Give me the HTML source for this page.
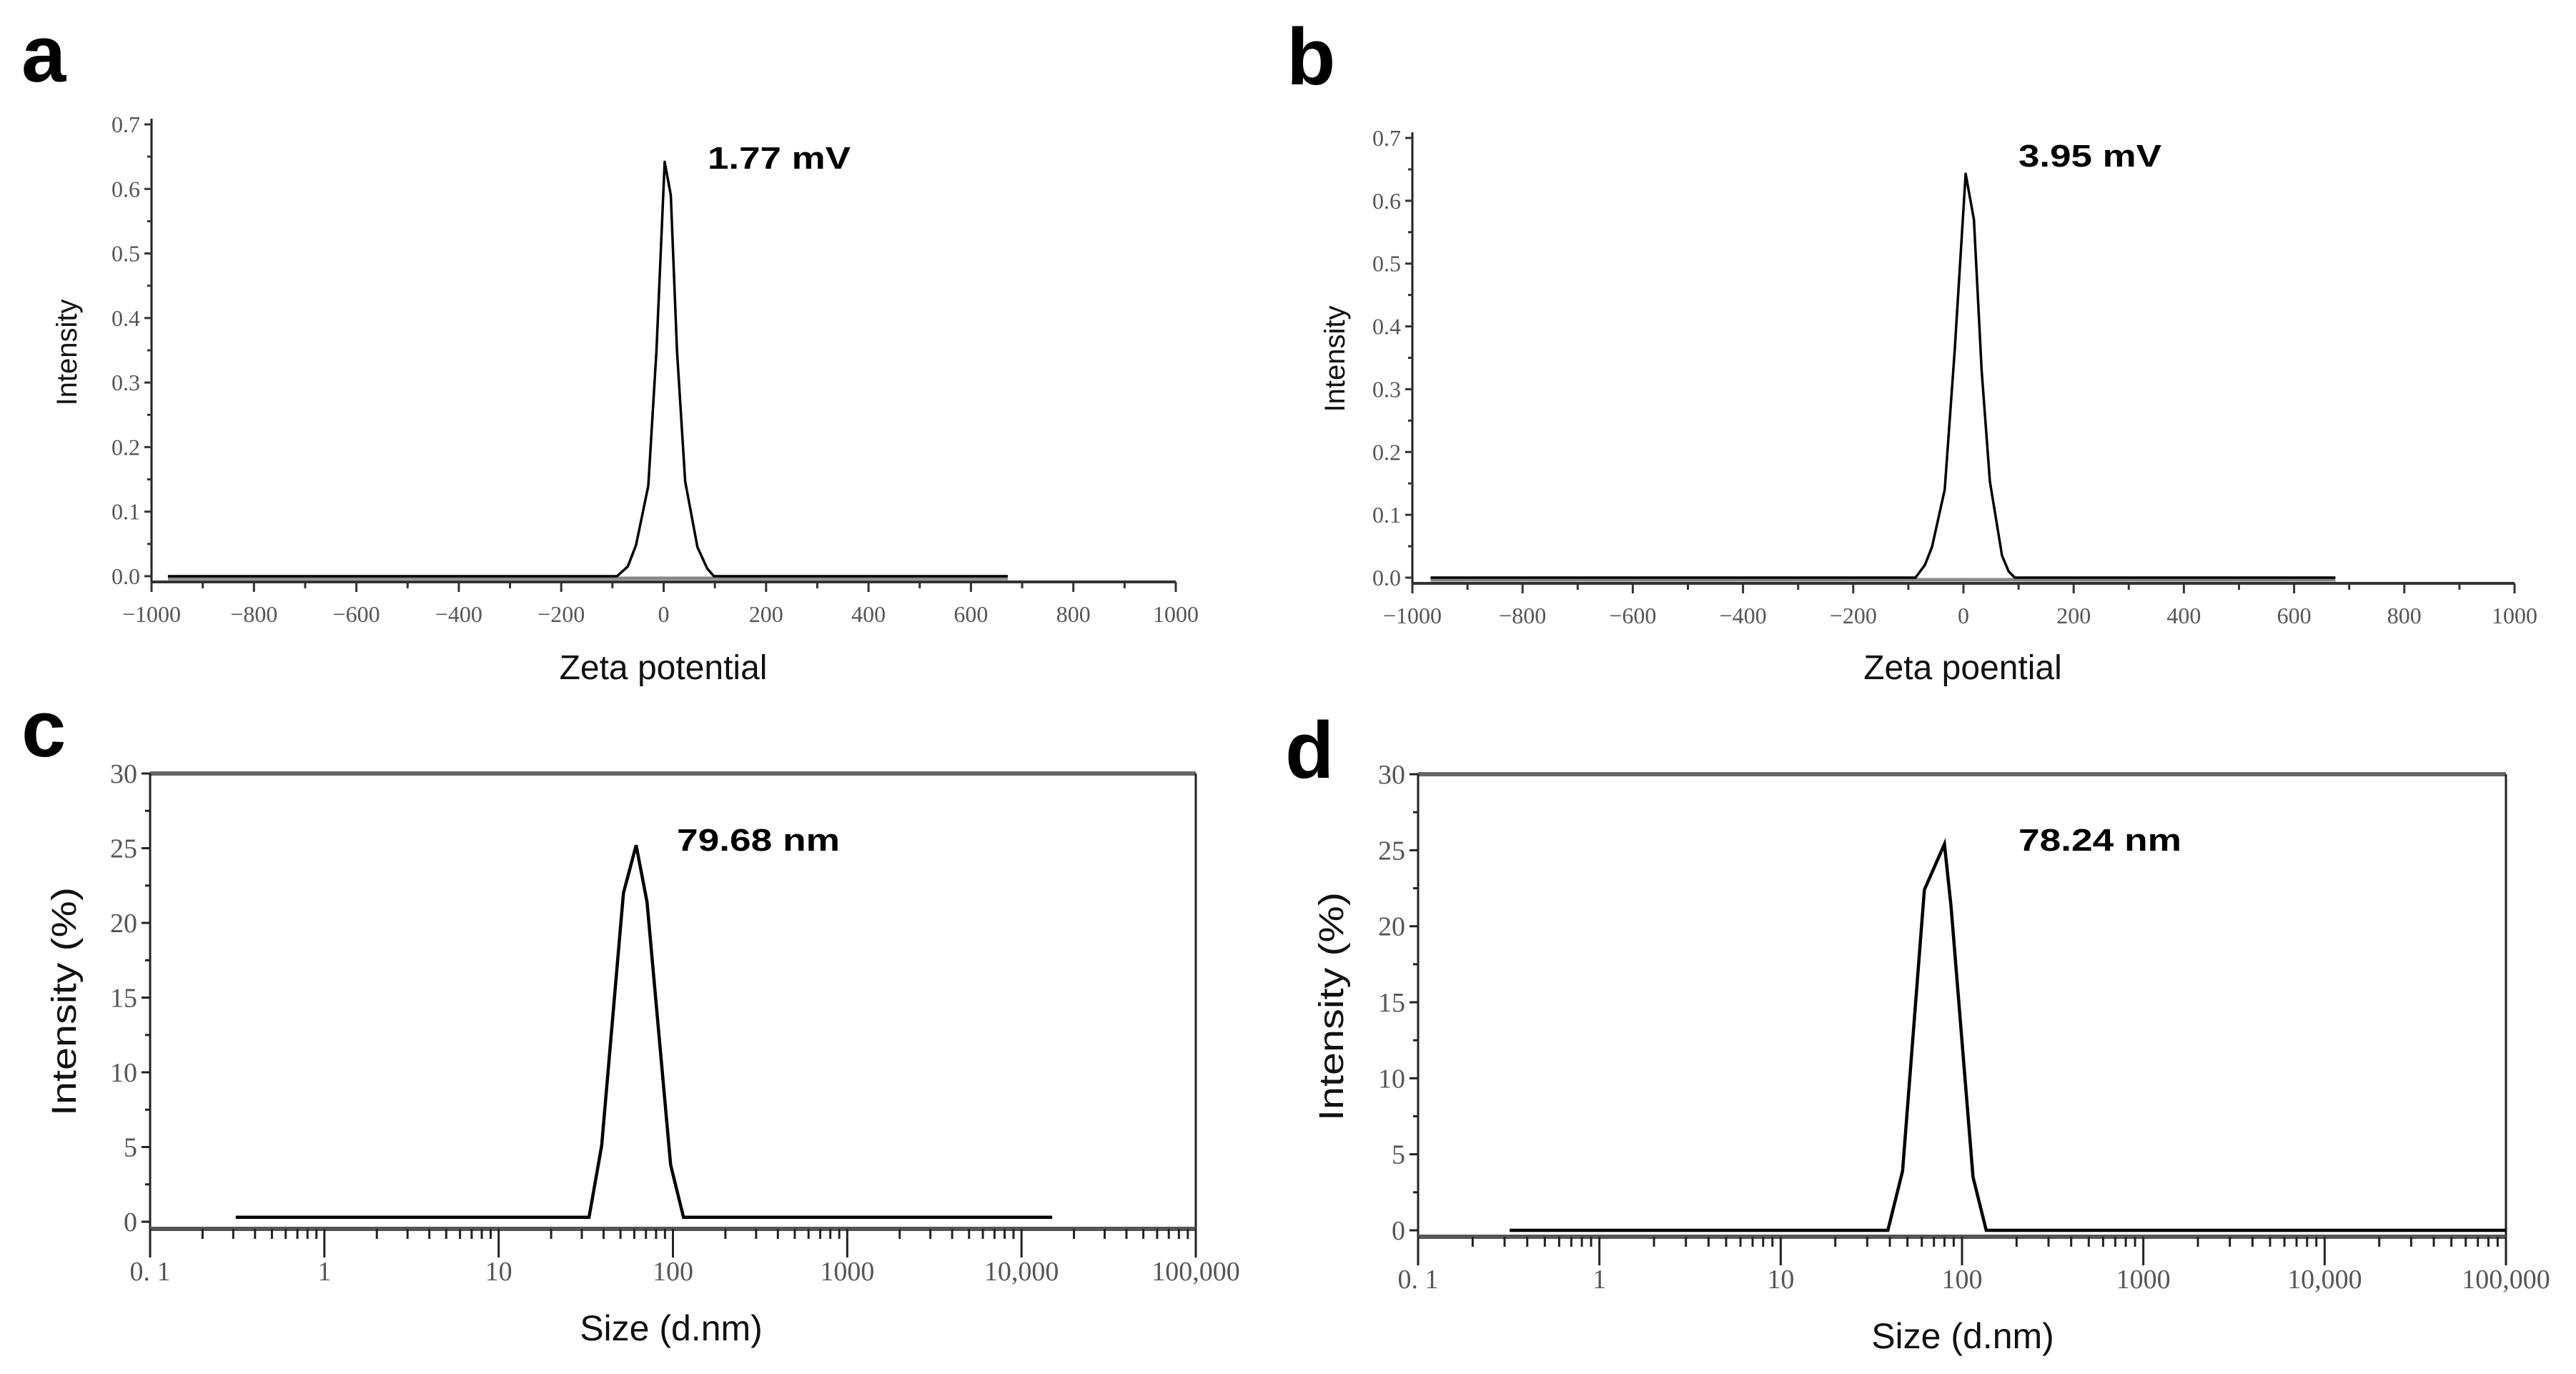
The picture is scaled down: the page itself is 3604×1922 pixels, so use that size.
<!DOCTYPE html>
<html><head><meta charset="utf-8"><style>
html,body{margin:0;padding:0;background:#fff}
svg{display:block}
</style></head><body>
<svg id="fig" width="3604" height="1922" viewBox="0 0 3604 1922" xmlns="http://www.w3.org/2000/svg">
<rect width="3604" height="1922" fill="#fff"/>
<text x="30" y="114" font-family="Liberation Sans, sans-serif" font-weight="bold" font-size="112">a</text>
<text x="1800" y="118" font-family="Liberation Sans, sans-serif" font-weight="bold" font-size="112">b</text>
<text x="30" y="1058" font-family="Liberation Sans, sans-serif" font-weight="bold" font-size="112">c</text>
<text x="1798" y="1088" font-family="Liberation Sans, sans-serif" font-weight="bold" font-size="112">d</text>
<g id="pa"></g>
<g id="pb"></g>
<g id="pc"></g>
<g id="pd"></g>
</svg>
<script>
// Panel a data (zeta potential, mV vs intensity)
const aX = [-968, -91, -70, -54, -30, -14, 2, 14, 26, 42, 66, 85, 98, 672];
const aY = [0.0, 0.0, 0.015, 0.048, 0.14, 0.35, 0.642, 0.59, 0.35, 0.147, 0.045, 0.012, 0.0, 0.0];
// Panel b data
const bX = [-967, -87, -70, -57, -34, -16, 4, 19, 33, 48, 70, 82, 93, 675];
const bY = [0.0, 0.0, 0.02, 0.049, 0.14, 0.36, 0.643, 0.57, 0.33, 0.153, 0.035, 0.01, 0.0, 0.0];
// Panel c data (size nm vs intensity %)
const cX = [0.31, 33, 39, 52, 61.5, 71, 97, 115, 15000];
const cY = [0.3, 0.3, 5.1, 22.0, 25.2, 21.4, 3.8, 0.3, 0.3];
// Panel d data
const dX = [0.32, 39, 47, 62, 80, 87, 115, 136, 100000];
const dY = [0.0, 0.0, 3.9, 22.4, 25.4, 21.3, 3.5, 0.0, 0.0];
// Tick labels
const zetaTicks = [-1000, -800, -600, -400, -200, 0, 200, 400, 600, 800, 1000];
const zetaYTicks = [0, 0.1, 0.2, 0.3, 0.4, 0.5, 0.6, 0.7];
const zetaYLabels = ["0.0","0.1","0.2","0.3","0.4","0.5","0.6","0.7"];
const sizeTicks = [0.1, 1, 10, 100, 1000, 10000, 100000];
const sizeTickLabels = ["0. 1","1","10","100","1000","10,000","100,000"];
const sizeYTicks = [0, 5, 10, 15, 20, 25, 30];
const titles = ["1.77 mV","3.95 mV","79.68 nm","78.24 nm"];

const NS = "http://www.w3.org/2000/svg";
function el(parent, tag, attrs, txt){
  const e = document.createElementNS(NS, tag);
  for (const k in attrs) e.setAttribute(k, attrs[k]);
  if (txt !== undefined) e.textContent = txt;
  parent.appendChild(e);
  return e;
}
const SERIF = "Liberation Serif, serif", SANS = "Liberation Sans, sans-serif";

function zeta(g, L, R, Y0, Y1, axisY, xs, ys, title, tx, ty, xlabel, xlx, ylx, yly){
  const sx = v => L + (v + 1000) / 2000 * (R - L);
  const sy = v => Y0 + v / 0.7 * (Y1 - Y0);
  let ln = el(g, "line", {x1:L, y1:Y1-8, x2:L, y2:axisY, stroke:"#222", "stroke-width":3});
  
  
  ln = el(g, "line", {x1:L, y1:axisY, x2:R, y2:axisY, stroke:"#333", "stroke-width":4});
  
  
  for (let v = -1000; v <= 1000; v += 100) {
    const t = el(g, "line", {x1:sx(v), y1:axisY, x2:sx(v), y2:axisY + (v % 200 === 0 ? 14 : 9), stroke:"#333", "stroke-width":3});
    
    
  }
  zetaTicks.forEach(v => {
    const t = el(g, "text", {x:sx(v), y:axisY + 56, "text-anchor":"middle", "font-family":SERIF, "font-size":32, fill:"#555"}, String(v).replace("-", "\u2212"));
    
    
  });
  for (let i = 0; i <= 14; i++) {
    const v = i * 0.05;
    const t = el(g, "line", {x1:L - (i % 2 === 0 ? 10 : 6), y1:sy(v), x2:L, y2:sy(v), stroke:"#333", "stroke-width":3});
    
    
  }
  zetaYTicks.forEach((v, i) => {
    const t = el(g, "text", {x:L - 16, y:sy(v) + 11, "text-anchor":"end", "font-family":SERIF, "font-size":32, fill:"#555"}, zetaYLabels[i]);
    
    
  });
  const pts = xs.map((x, i) => sx(x) + "," + sy(ys[i])).join(" ");
  const base = el(g, "line", {x1:sx(xs[0]), y1:sy(0)+3, x2:sx(xs[xs.length-1]), y2:sy(0)+3, stroke:"#888", "stroke-width":5});
  
  
  const p = el(g, "polyline", {points:pts, fill:"none", stroke:"#000", "stroke-width":3.5, "stroke-linejoin":"round"});
  
  
  let t = el(g, "text", {x:tx, y:ty, "font-family":SANS, "font-weight":"bold", "font-size":44, textLength:200, lengthAdjust:"spacingAndGlyphs"}, title);
  
  
  t = el(g, "text", {x:xlx, y:950, "text-anchor":"middle", "font-family":SANS, "font-size":48, fill:"#111"}, xlabel);
  
  
  t = el(g, "text", {x:0, y:0, "text-anchor":"middle", "font-family":SANS, "font-size":40, fill:"#111", transform:"translate(" + ylx + "," + yly + ") rotate(-90)"}, "Intensity");
  
  
}

function sizeChart(g, L, R, Y0, Y1, axisY, xs, ys, title, tx, ty, xlx, ylx, yly){
  const sx = v => L + (Math.log10(v) + 1) / 6 * (R - L);
  const sy = v => Y0 + v / 30 * (Y1 - Y0);
  let ln = el(g, "line", {x1:L, y1:Y1, x2:R, y2:Y1, stroke:"#666", "stroke-width":6});
  
  
  ln = el(g, "line", {x1:R, y1:Y1, x2:R, y2:axisY, stroke:"#222", "stroke-width":3});
  
  
  ln = el(g, "line", {x1:L, y1:Y1, x2:L, y2:axisY+40, stroke:"#222", "stroke-width":3});
  
  
  ln = el(g, "line", {x1:L, y1:axisY, x2:R, y2:axisY, stroke:"#555", "stroke-width":6});
  
  
  for (let d = -1; d < 5; d++) {
    for (let m = 1; m < 10; m++) {
      const v = m * Math.pow(10, d);
      const t = el(g, "line", {x1:sx(v), y1:axisY, x2:sx(v), y2:axisY + (m === 1 ? 40 : 14), stroke:"#222", "stroke-width":3});
      
      
    }
  }
  let rt = el(g, "line", {x1:R, y1:axisY, x2:R, y2:axisY + 40, stroke:"#222", "stroke-width":3});
  
  
  sizeTicks.forEach((v, i) => {
    const t = el(g, "text", {x:sx(v), y:axisY + 72, "text-anchor":"middle", "font-family":SERIF, "font-size":38, fill:"#555"}, sizeTickLabels[i]);
    
    
  });
  for (let i = 0; i <= 12; i++) {
    const v = i * 2.5;
    const t = el(g, "line", {x1:L - (i % 2 === 0 ? 12 : 7), y1:sy(v), x2:L, y2:sy(v), stroke:"#222", "stroke-width":3});
    
    
  }
  sizeYTicks.forEach(v => {
    const t = el(g, "text", {x:L - 18, y:sy(v) + 13, "text-anchor":"end", "font-family":SERIF, "font-size":38, fill:"#555"}, String(v));
    
    
  });
  const pts = xs.map((x, i) => sx(x) + "," + sy(ys[i])).join(" ");
  const p = el(g, "polyline", {points:pts, fill:"none", stroke:"#000", "stroke-width":4.5, "stroke-linejoin":"miter"});
  
  
  let t = el(g, "text", {x:tx, y:ty, "font-family":SANS, "font-weight":"bold", "font-size":44, textLength:228, lengthAdjust:"spacingAndGlyphs"}, title);
  
  
  t = el(g, "text", {x:xlx, y:axisY + 156, "text-anchor":"middle", "font-family":SANS, "font-size":50, fill:"#111"}, "Size (d.nm)");
  
  
  t = el(g, "text", {x:0, y:0, "text-anchor":"middle", "font-family":SANS, "font-size":48, fill:"#111", textLength:320, lengthAdjust:"spacingAndGlyphs", transform:"translate(" + ylx + "," + yly + ") rotate(-90)"}, "Intensity (%)");
  
  
}

zeta(document.getElementById("pa"), 212, 1645, 806, 174, 814, aX, aY, titles[0], 990, 236, "Zeta potential", 928, 107, 493);
zeta(document.getElementById("pb"), 1976, 3518, 808, 193, 816, bX, bY, titles[1], 2824, 233, "Zeta poential", 2746, 1881, 502);
sizeChart(document.getElementById("pc"), 210, 1673, 1709, 1082, 1719, cX, cY, titles[2], 947, 1190, 939, 106, 1401);
sizeChart(document.getElementById("pd"), 1984, 3506, 1721, 1083, 1730, dX, dY, titles[3], 2824, 1190, 2746, 1879, 1408);
</script>
</body></html>
